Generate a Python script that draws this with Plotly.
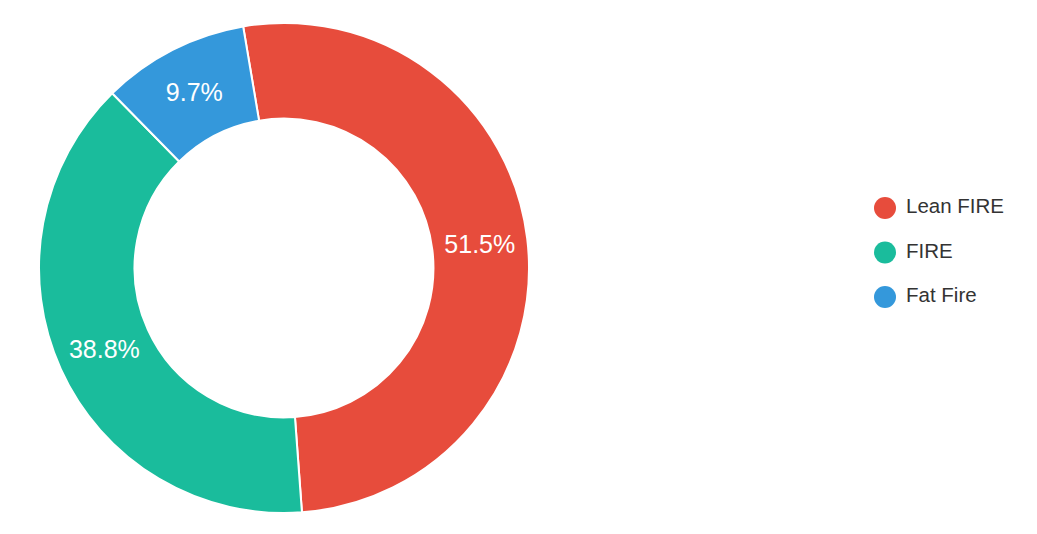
import plotly.graph_objects as go

labels = ["Lean FIRE", "FIRE", "Fat Fire"]
values = [51.5, 38.8, 9.7]
colors = ["#e74c3c", "#1abc9c", "#3498db"]

W, H = 1037, 534
OFF = 8  # page body margin seen in the screenshot
FONT = "Liberation Sans, Arial, sans-serif"

cx, cy, R = 284 - OFF, 268 - OFF, 245

fig = go.Figure()
fig.add_trace(go.Pie(
    labels=labels, values=values, hole=0.61, sort=False, direction="clockwise",
    rotation=-9.6,
    marker=dict(colors=colors, line=dict(color="white", width=2)),
    textinfo="percent", texttemplate="%{percent:.1%}",
    textposition="inside", insidetextorientation="horizontal",
    textfont=dict(color="white", size=25, family=FONT),
    domain=dict(x=[(cx - R) / W, (cx + R) / W], y=[(H - cy - R) / H, (H - cy + R) / H]),
    showlegend=False,
))

# legend drawn as a small scatter on a hidden axis
idx = list(range(len(labels)))
fig.add_trace(go.Scatter(
    x=[55.4] * len(labels), y=idx, mode="markers",
    marker=dict(color=colors, size=22, line=dict(width=0)),
    hoverinfo="skip", showlegend=False, cliponaxis=False,
))
fig.add_trace(go.Scatter(
    x=[76.4] * len(labels), y=idx, mode="text", text=labels,
    textposition="middle right",
    textfont=dict(color="#333333", size=20.5, family=FONT),
    hoverinfo="skip", showlegend=False, cliponaxis=False,
))

fig.update_layout(
    width=W, height=H,
    margin=dict(l=0, r=0, t=0, b=0),
    paper_bgcolor="white", plot_bgcolor="rgba(0,0,0,0)",
    font=dict(family=FONT),
    xaxis=dict(domain=[(829.6 - OFF) / W, (1037 - OFF) / W], range=[0, 207.4], visible=False, fixedrange=True),
    yaxis=dict(domain=[(H - 319.25 + OFF) / H, (H - 185.75 + OFF) / H], range=[2.5, -0.5],
               visible=False, fixedrange=True),
)

fig.write_html("out.html")
